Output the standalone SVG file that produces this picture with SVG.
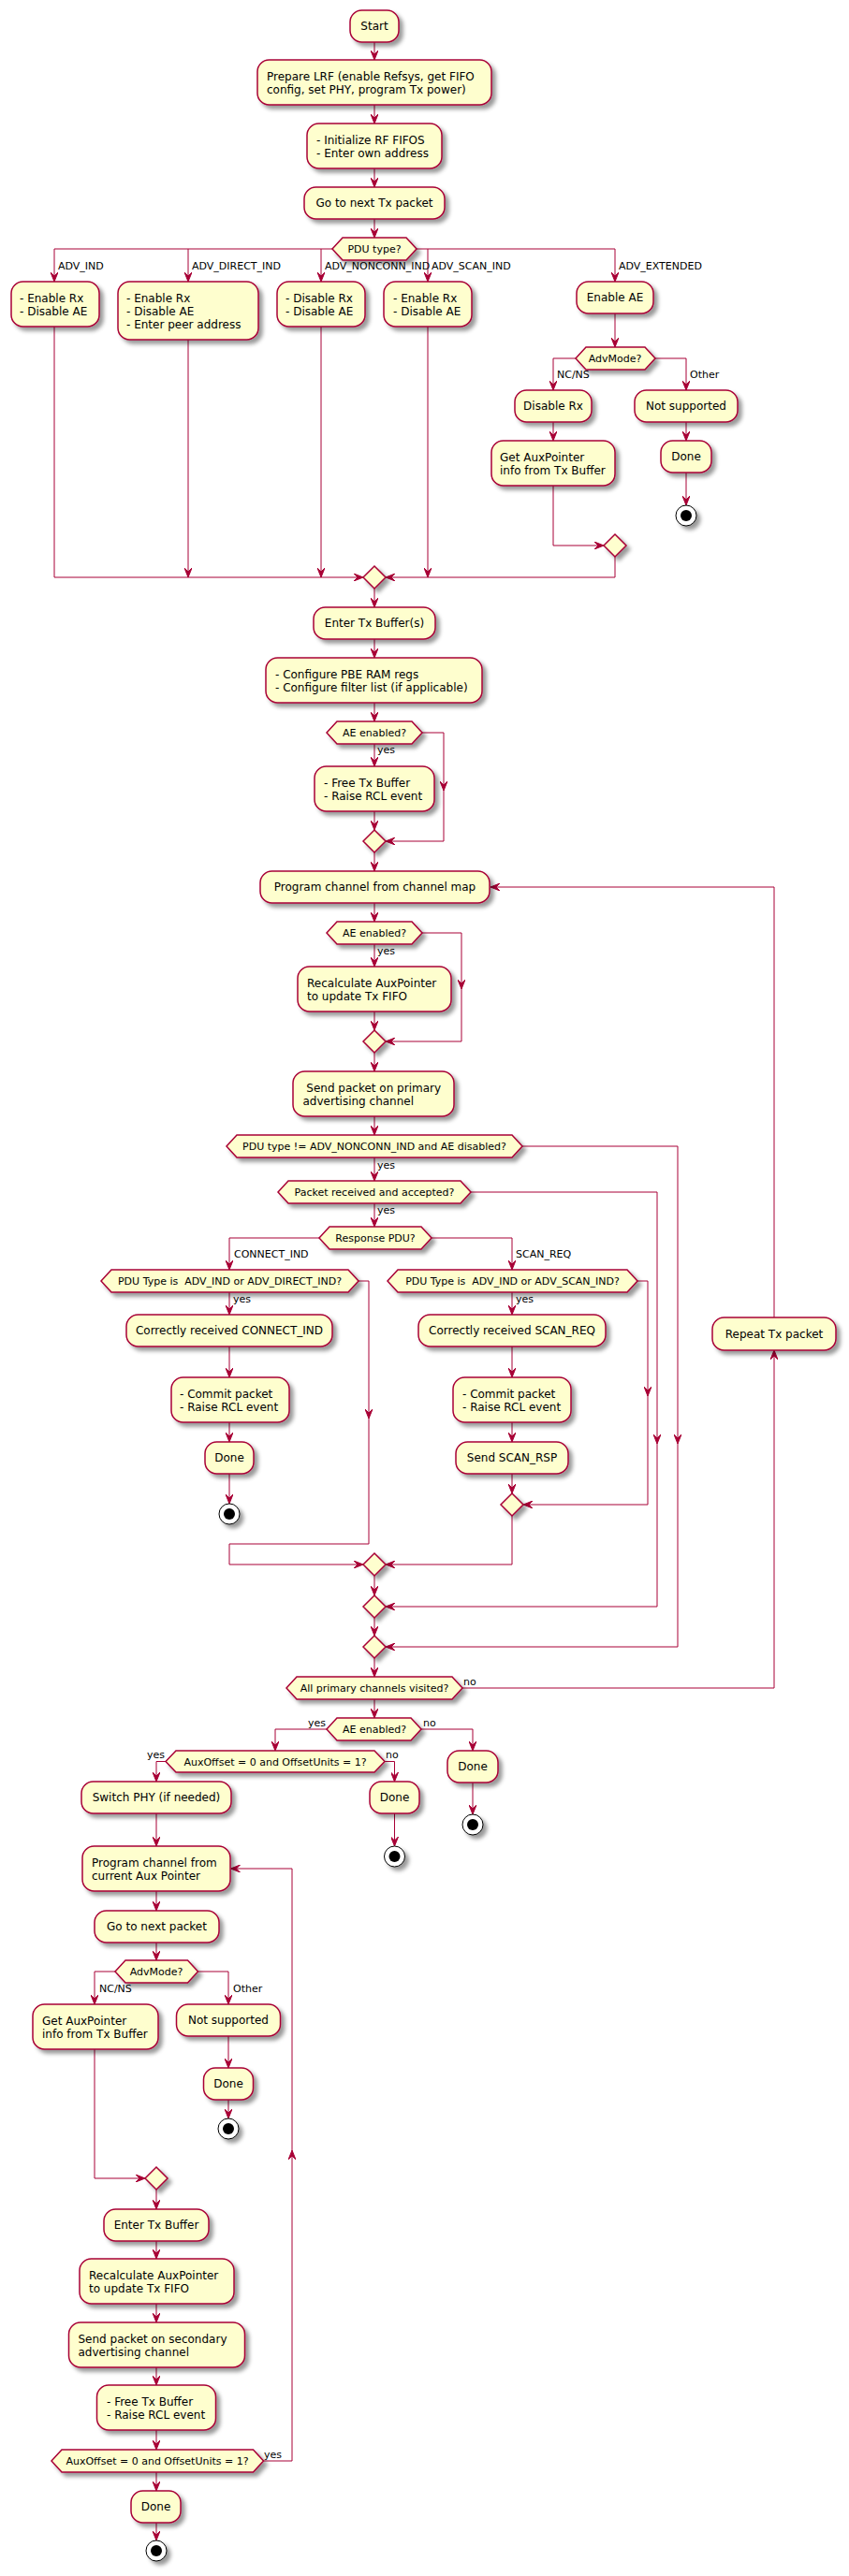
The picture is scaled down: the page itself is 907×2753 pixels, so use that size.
<svg xmlns="http://www.w3.org/2000/svg" width="907" height="2753" viewBox="0 0 907 2753">
<style>
.n{fill:#FEFECE;stroke:#A80036;stroke-width:1.5;filter:url(#sh)}
.t{font-family:"DejaVu Sans",sans-serif;font-size:12px;fill:#000;white-space:pre}
.c{text-anchor:middle}
.h{font-family:"DejaVu Sans",sans-serif;font-size:11px;fill:#000;text-anchor:middle;white-space:pre}
.l{font-family:"DejaVu Sans",sans-serif;font-size:11px;fill:#000;white-space:pre}
.r{text-anchor:end}
.e{fill:none;stroke:#A80036;stroke-width:1}
.a{fill:none;stroke:#A80036;stroke-width:1;marker-end:url(#ar)}
.so{fill:#FFFFFF;stroke:#000;stroke-width:1;filter:url(#sh)}
.si{fill:#000}
</style>
<defs>
<filter id="sh" x="-0.5" y="-0.5" width="2" height="2">
<feGaussianBlur in="SourceAlpha" stdDeviation="2" result="b"/>
<feColorMatrix in="b" type="matrix" values="0 0 0 0 0 0 0 0 0 0 0 0 0 0 0 0 0 0 .4 0" result="b2"/>
<feOffset in="b2" dx="4" dy="4" result="b3"/>
<feBlend in="SourceGraphic" in2="b3" mode="normal"/>
</filter>
<marker id="ar" viewBox="0 0 10 8" refX="10" refY="4" markerWidth="10" markerHeight="8" markerUnits="userSpaceOnUse" orient="auto">
<path d="M0,0 L10,4 L0,8 L4,4 Z" fill="#A80036" stroke="#A80036" stroke-width="1"/>
</marker>
</defs>
<rect width="907" height="2753" fill="#FFFFFF"/>

<g id="connectors">
<path class="a" d="M400,45 V64"/>
<path class="a" d="M400,112 V132"/>
<path class="a" d="M400,180 V200"/>
<path class="a" d="M400,234 V254"/>
<path class="a" d="M355,266 H58 V301"/>
<path class="a" d="M201,266 V301"/>
<path class="a" d="M343,266 V301"/>
<path class="a" d="M445,266 H657 V301"/>
<path class="a" d="M457,266 V301"/>
<path class="a" d="M657,335 V371"/>
<path class="a" d="M615,383 H591 V417"/>
<path class="a" d="M700,383 H733 V417"/>
<path class="a" d="M591,451 V471"/>
<path class="a" d="M733,451 V471"/>
<path class="a" d="M733,505 V540"/>
<path class="a" d="M591,519 V583 H645"/>
<path class="a" d="M657,595 V617 H412"/>
<path class="a" d="M457,349 V617"/>
<path class="a" d="M343,349 V617"/>
<path class="a" d="M201,363 V617"/>
<path class="a" d="M58,349 V617 H388"/>
<path class="a" d="M400,629 V649"/>
<path class="a" d="M400,683 V703"/>
<path class="a" d="M400,751 V771"/>
<path class="a" d="M400,795 V819"/>
<path class="a" d="M400,867 V887"/>
<path class="a" d="M451,783 H474 V845"/>
<path class="a" d="M474,845 V899 H412"/>
<path class="a" d="M400,911 V931"/>
<path class="a" d="M400,965 V985"/>
<path class="a" d="M400,1009 V1033"/>
<path class="a" d="M400,1081 V1101"/>
<path class="a" d="M451,997 H493 V1057"/>
<path class="a" d="M493,1057 V1113 H412"/>
<path class="a" d="M400,1125 V1145"/>
<path class="a" d="M400,1193 V1213"/>
<path class="a" d="M400,1237 V1262"/>
<path class="a" d="M558,1225 H724 V1543"/>
<path class="a" d="M724,1543 V1760 H412"/>
<path class="a" d="M400,1286 V1311"/>
<path class="a" d="M503,1274 H702 V1543"/>
<path class="a" d="M702,1543 V1717 H412"/>
<path class="a" d="M341,1323 H245 V1357"/>
<path class="a" d="M461,1323 H547 V1357"/>
<path class="a" d="M245,1381 V1405"/>
<path class="a" d="M245,1439 V1472"/>
<path class="a" d="M245,1520 V1541"/>
<path class="a" d="M245,1575 V1607"/>
<path class="a" d="M383,1369 H394 V1516"/>
<path class="a" d="M394,1516 V1650 H245 V1672 H388"/>
<path class="a" d="M547,1381 V1405"/>
<path class="a" d="M547,1439 V1472"/>
<path class="a" d="M547,1520 V1541"/>
<path class="a" d="M547,1575 V1596"/>
<path class="a" d="M681,1369 H692 V1492"/>
<path class="a" d="M692,1492 V1608 H559"/>
<path class="a" d="M547,1620 V1672 H412"/>
<path class="a" d="M400,1684 V1705"/>
<path class="a" d="M400,1729 V1748"/>
<path class="a" d="M400,1772 V1792"/>
<path class="a" d="M494,1804 H827 V1443"/>
<path class="a" d="M827,1408 V948 H524"/>
<path class="a" d="M400,1816 V1836"/>
<path class="a" d="M349,1848 H294 V1871"/>
<path class="a" d="M450,1848 H505 V1871"/>
<path class="a" d="M505,1905 V1939"/>
<path class="a" d="M177,1882.5 H167 V1904"/>
<path class="a" d="M411,1882.5 H421.5 V1904"/>
<path class="a" d="M421.5,1938 V1973"/>
<path class="a" d="M167,1938 V1973"/>
<path class="a" d="M167,2021 V2042"/>
<path class="a" d="M167,2076 V2095"/>
<path class="a" d="M123,2107 H101 V2142"/>
<path class="a" d="M211.5,2107 H244 V2142"/>
<path class="a" d="M244,2176 V2210"/>
<path class="a" d="M244,2244 V2264"/>
<path class="a" d="M101,2190 V2328 H155"/>
<path class="a" d="M167,2340 V2361"/>
<path class="a" d="M167,2395 V2414"/>
<path class="a" d="M167,2462 V2482"/>
<path class="a" d="M167,2530 V2549"/>
<path class="a" d="M167,2597 V2618"/>
<path class="a" d="M281.5,2630 H312 V2298"/>
<path class="a" d="M312,2298 V1997 H246.5"/>
<path class="a" d="M167,2642 V2662"/>
<path class="a" d="M167,2696 V2715"/>
</g>

<g id="labels">
<text class="l" x="62" y="288">ADV_IND</text>
<text class="l" x="205" y="288">ADV_DIRECT_IND</text>
<text class="l" x="347" y="288">ADV_NONCONN_IND</text>
<text class="l" x="461" y="288">ADV_SCAN_IND</text>
<text class="l" x="661" y="288">ADV_EXTENDED</text>
<text class="l" x="595" y="404">NC/NS</text>
<text class="l" x="737" y="404">Other</text>
<text class="l" x="403" y="805">yes</text>
<text class="l" x="403" y="1020">yes</text>
<text class="l" x="403" y="1249">yes</text>
<text class="l" x="403" y="1297">yes</text>
<text class="l" x="250" y="1344">CONNECT_IND</text>
<text class="l" x="551" y="1344">SCAN_REQ</text>
<text class="l" x="249" y="1392">yes</text>
<text class="l" x="551" y="1392">yes</text>
<text class="l" x="495" y="1801">no</text>
<text class="l r" x="348" y="1845">yes</text>
<text class="l" x="452" y="1845">no</text>
<text class="l r" x="176" y="1879">yes</text>
<text class="l" x="412" y="1879">no</text>
<text class="l" x="106" y="2129">NC/NS</text>
<text class="l" x="249" y="2129">Other</text>
<text class="l" x="282" y="2627">yes</text>
</g>

<g id="start"><rect class="n" x="374" y="11" width="52" height="34" rx="12.5"/><text class="t c" x="400" y="32">Start</text></g>
<g id="prepare"><rect class="n" x="275" y="64" width="250" height="48" rx="12.5"/><text class="t" x="285" y="86">Prepare LRF (enable Refsys, get FIFO</text><text class="t" x="285" y="100">config, set PHY, program Tx power)</text></g>
<g id="init"><rect class="n" x="328" y="132" width="144" height="48" rx="12.5"/><text class="t" x="338" y="154">- Initialize RF FIFOS</text><text class="t" x="338" y="168">- Enter own address</text></g>
<g id="nexttx"><rect class="n" x="325" y="200" width="150" height="34" rx="12.5"/><text class="t c" x="400" y="221">Go to next Tx packet</text></g>
<g id="pdutype"><polygon class="n" points="355,266 366,254 434,254 445,266 434,278 366,278"/><text class="h" x="400" y="270">PDU type?</text></g>
<g id="advind"><rect class="n" x="12" y="301" width="94" height="48" rx="12.5"/><text class="t" x="21" y="323">- Enable Rx</text><text class="t" x="21" y="337">- Disable AE</text></g>
<g id="advdirect"><rect class="n" x="126" y="301" width="150" height="62" rx="12.5"/><text class="t" x="135" y="323">- Enable Rx</text><text class="t" x="135" y="337">- Disable AE</text><text class="t" x="135" y="351">- Enter peer address</text></g>
<g id="advnonconn"><rect class="n" x="296" y="301" width="94" height="48" rx="12.5"/><text class="t" x="305" y="323">- Disable Rx</text><text class="t" x="305" y="337">- Disable AE</text></g>
<g id="advscan"><rect class="n" x="410" y="301" width="94" height="48" rx="12.5"/><text class="t" x="420" y="323">- Enable Rx</text><text class="t" x="420" y="337">- Disable AE</text></g>
<g id="enableae"><rect class="n" x="616" y="301" width="82" height="34" rx="12.5"/><text class="t c" x="657" y="322">Enable AE</text></g>
<g id="advmode1"><polygon class="n" points="615,383 626,371 689,371 700,383 689,395 626,395"/><text class="h" x="657" y="387">AdvMode?</text></g>
<g id="disablerx"><rect class="n" x="550" y="417" width="82" height="34" rx="12.5"/><text class="t c" x="591" y="438">Disable Rx</text></g>
<g id="notsup1"><rect class="n" x="678" y="417" width="110" height="34" rx="12.5"/><text class="t c" x="733" y="438">Not supported</text></g>
<g id="getaux1"><rect class="n" x="525" y="471" width="132" height="48" rx="12.5"/><text class="t" x="534" y="493">Get AuxPointer</text><text class="t" x="534" y="507">info from Tx Buffer</text></g>
<g id="done1"><rect class="n" x="706" y="471" width="54" height="34" rx="12.5"/><text class="t c" x="733" y="492">Done</text></g>
<g id="stop1"><circle class="so" cx="733" cy="551" r="11"/><circle class="si" cx="733" cy="551" r="6"/></g>
<g id="merge1"><polygon class="n" points="657,571 669,583 657,595 645,583"/></g>
<g id="merge2"><polygon class="n" points="400,605 412,617 400,629 388,617"/></g>
<g id="entertxs"><rect class="n" x="335" y="649" width="130" height="34" rx="12.5"/><text class="t c" x="400" y="670">Enter Tx Buffer(s)</text></g>
<g id="configpbe"><rect class="n" x="284" y="703" width="231" height="48" rx="12.5"/><text class="t" x="294" y="725">- Configure PBE RAM regs</text><text class="t" x="294" y="739">- Configure filter list (if applicable)</text></g>
<g id="aeen1"><polygon class="n" points="349,783 360,771 440,771 451,783 440,795 360,795"/><text class="h" x="400" y="787">AE enabled?</text></g>
<g id="freetx1"><rect class="n" x="336" y="819" width="128" height="48" rx="12.5"/><text class="t" x="346" y="841">- Free Tx Buffer</text><text class="t" x="346" y="855">- Raise RCL event</text></g>
<g id="merge3"><polygon class="n" points="400,887 412,899 400,911 388,899"/></g>
<g id="progchan"><rect class="n" x="278" y="931" width="245" height="34" rx="12.5"/><text class="t c" x="400.5" y="952">Program channel from channel map</text></g>
<g id="aeen2"><polygon class="n" points="349,997 360,985 440,985 451,997 440,1009 360,1009"/><text class="h" x="400" y="1001">AE enabled?</text></g>
<g id="recalc1"><rect class="n" x="318" y="1033" width="164" height="48" rx="12.5"/><text class="t" x="328" y="1055">Recalculate AuxPointer</text><text class="t" x="328" y="1069">to update Tx FIFO</text></g>
<g id="merge4"><polygon class="n" points="400,1101 412,1113 400,1125 388,1113"/></g>
<g id="sendprim"><rect class="n" x="313" y="1145" width="172" height="48" rx="12.5"/><text class="t" x="323.5" y="1167"> Send packet on primary</text><text class="t" x="323.5" y="1181">advertising channel</text></g>
<g id="pdune"><polygon class="n" points="242,1225 253,1213 547,1213 558,1225 547,1237 253,1237"/><text class="h" x="400" y="1229">PDU type != ADV_NONCONN_IND and AE disabled?</text></g>
<g id="pktrecv"><polygon class="n" points="297,1274 308,1262 492,1262 503,1274 492,1286 308,1286"/><text class="h" x="400" y="1278">Packet received and accepted?</text></g>
<g id="resppdu"><polygon class="n" points="341,1323 352,1311 450,1311 461,1323 450,1335 352,1335"/><text class="h" x="401" y="1327">Response PDU?</text></g>
<g id="pduconn"><polygon class="n" points="108,1369 119,1357 372,1357 383,1369 372,1381 119,1381"/><text class="h" x="245.5" y="1373">PDU Type is  ADV_IND or ADV_DIRECT_IND?</text></g>
<g id="rxconn"><rect class="n" x="135" y="1405" width="220" height="34" rx="12.5"/><text class="t c" x="245" y="1426">Correctly received CONNECT_IND</text></g>
<g id="commit1"><rect class="n" x="183" y="1472" width="126" height="48" rx="12.5"/><text class="t" x="192" y="1494">- Commit packet</text><text class="t" x="192" y="1508">- Raise RCL event</text></g>
<g id="done2"><rect class="n" x="219" y="1541" width="52" height="34" rx="12.5"/><text class="t c" x="245" y="1562">Done</text></g>
<g id="stop2"><circle class="so" cx="245" cy="1618" r="11"/><circle class="si" cx="245" cy="1618" r="6"/></g>
<g id="pduscan"><polygon class="n" points="414,1369 425,1357 670,1357 681,1369 670,1381 425,1381"/><text class="h" x="547.5" y="1373">PDU Type is  ADV_IND or ADV_SCAN_IND?</text></g>
<g id="rxscan"><rect class="n" x="447" y="1405" width="200" height="34" rx="12.5"/><text class="t c" x="547" y="1426">Correctly received SCAN_REQ</text></g>
<g id="commit2"><rect class="n" x="484" y="1472" width="126" height="48" rx="12.5"/><text class="t" x="494" y="1494">- Commit packet</text><text class="t" x="494" y="1508">- Raise RCL event</text></g>
<g id="scanrsp"><rect class="n" x="487" y="1541" width="120" height="34" rx="12.5"/><text class="t c" x="547" y="1562">Send SCAN_RSP</text></g>
<g id="merge5"><polygon class="n" points="547,1596 559,1608 547,1620 535,1608"/></g>
<g id="merge6"><polygon class="n" points="400,1660 412,1672 400,1684 388,1672"/></g>
<g id="merge7"><polygon class="n" points="400,1705 412,1717 400,1729 388,1717"/></g>
<g id="merge8"><polygon class="n" points="400,1748 412,1760 400,1772 388,1760"/></g>
<g id="repeat"><rect class="n" x="761" y="1408" width="132" height="35" rx="12.5"/><text class="t" x="771" y="1430"> Repeat Tx packet</text></g>
<g id="allvisited"><polygon class="n" points="306,1804 317,1792 483,1792 494,1804 483,1816 317,1816"/><text class="h" x="400" y="1808">All primary channels visited?</text></g>
<g id="aeen3"><polygon class="n" points="349,1848 360,1836 439,1836 450,1848 439,1860 360,1860"/><text class="h" x="400" y="1852">AE enabled?</text></g>
<g id="auxoff1"><polygon class="n" points="177,1882.5 188,1871 400,1871 411,1882.5 400,1894 188,1894"/><text class="h" x="294" y="1886.5">AuxOffset = 0 and OffsetUnits = 1?</text></g>
<g id="done3"><rect class="n" x="478" y="1871" width="54" height="34" rx="12.5"/><text class="t c" x="505" y="1892">Done</text></g>
<g id="stop3"><circle class="so" cx="505" cy="1950" r="11"/><circle class="si" cx="505" cy="1950" r="6"/></g>
<g id="switchphy"><rect class="n" x="87" y="1904" width="160" height="34" rx="12.5"/><text class="t c" x="167" y="1925">Switch PHY (if needed)</text></g>
<g id="done4"><rect class="n" x="395" y="1904" width="53" height="34" rx="12.5"/><text class="t c" x="421.5" y="1925">Done</text></g>
<g id="stop4"><circle class="so" cx="421.5" cy="1984" r="11"/><circle class="si" cx="421.5" cy="1984" r="6"/></g>
<g id="progaux"><rect class="n" x="88" y="1973" width="158" height="48" rx="12.5"/><text class="t" x="98" y="1995">Program channel from</text><text class="t" x="98" y="2009">current Aux Pointer</text></g>
<g id="nextpkt"><rect class="n" x="101" y="2042" width="133" height="34" rx="12.5"/><text class="t c" x="167.5" y="2063">Go to next packet</text></g>
<g id="advmode2"><polygon class="n" points="123,2107 134,2095 200.5,2095 211.5,2107 200.5,2119 134,2119"/><text class="h" x="167" y="2111">AdvMode?</text></g>
<g id="getaux2"><rect class="n" x="35" y="2142" width="134" height="48" rx="12.5"/><text class="t" x="45" y="2164">Get AuxPointer</text><text class="t" x="45" y="2178">info from Tx Buffer</text></g>
<g id="notsup2"><rect class="n" x="188.5" y="2142" width="111" height="34" rx="12.5"/><text class="t c" x="244" y="2163">Not supported</text></g>
<g id="done5"><rect class="n" x="217.5" y="2210" width="53" height="34" rx="12.5"/><text class="t c" x="244" y="2231">Done</text></g>
<g id="stop5"><circle class="so" cx="244" cy="2275" r="11"/><circle class="si" cx="244" cy="2275" r="6"/></g>
<g id="merge9"><polygon class="n" points="167,2316 179,2328 167,2340 155,2328"/></g>
<g id="entertx2"><rect class="n" x="111" y="2361" width="112" height="34" rx="12.5"/><text class="t c" x="167" y="2382">Enter Tx Buffer</text></g>
<g id="recalc2"><rect class="n" x="85" y="2414" width="165" height="48" rx="12.5"/><text class="t" x="95" y="2436">Recalculate AuxPointer</text><text class="t" x="95" y="2450">to update Tx FIFO</text></g>
<g id="sendsec"><rect class="n" x="73.5" y="2482" width="188" height="48" rx="12.5"/><text class="t" x="83.5" y="2504">Send packet on secondary</text><text class="t" x="83.5" y="2518">advertising channel</text></g>
<g id="freetx2"><rect class="n" x="103.5" y="2549" width="127" height="48" rx="12.5"/><text class="t" x="114" y="2571">- Free Tx Buffer</text><text class="t" x="114" y="2585">- Raise RCL event</text></g>
<g id="auxoff2"><polygon class="n" points="55,2630 66,2618 270.5,2618 281.5,2630 270.5,2642 66,2642"/><text class="h" x="168" y="2634">AuxOffset = 0 and OffsetUnits = 1?</text></g>
<g id="done6"><rect class="n" x="140" y="2662" width="53" height="34" rx="12.5"/><text class="t c" x="166.5" y="2683">Done</text></g>
<g id="stop6"><circle class="so" cx="167" cy="2726" r="11"/><circle class="si" cx="167" cy="2726" r="6"/></g>
</svg>
